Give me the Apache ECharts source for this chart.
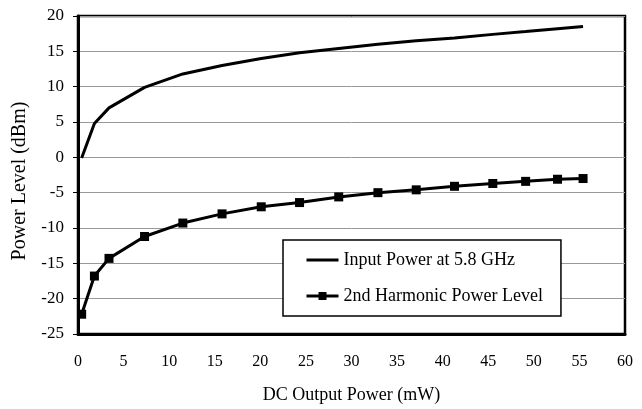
<!DOCTYPE html>
<html>
<head>
<meta charset="utf-8">
<script src="https://cdn.jsdelivr.net/npm/echarts@6/dist/echarts.min.js"></script>
<style>
  html, body { margin: 0; padding: 0; background: #fff; }
  #main { width: 642px; height: 409px; }
</style>
</head>
<body>
<div id="main"></div>
<script>
// DC output power (mW)
var dcPower = [0.4, 1.8, 3.4, 7.3, 11.5, 15.8, 20.1, 24.3, 28.6, 32.9, 37.1, 41.3, 45.5, 49.1, 52.6, 55.4];
// input power at 5.8 GHz (dBm)
var inputPower = [-0.1, 4.8, 7.0, 9.9, 11.8, 13.0, 14.0, 14.8, 15.4, 16.0, 16.5, 16.9, 17.4, 17.8, 18.2, 18.5];
// 2nd harmonic power level (dBm)
var harmonic = [-22.2, -16.8, -14.3, -11.2, -9.3, -8.0, -7.0, -6.4, -5.6, -5.0, -4.6, -4.1, -3.7, -3.4, -3.1, -3.0];

var seriesNames = ['Input Power at 5.8 GHz', '2nd Harmonic Power Level'];

function pairs(xs, ys) {
  return xs.map(function (x, i) { return [x, ys[i]]; });
}

var myChart = echarts.init(document.getElementById('main'));
var serif = 'Liberation Serif';

var option = {
  animation: false,
  textStyle: { fontFamily: serif, color: '#000' },
  grid: {
    left: 78, right: 17, top: 16, bottom: 74,
    show: true, borderColor: '#000', borderWidth: 2.5
  },
  legend: {
    left: 283, top: 240,
    orient: 'vertical',
    backgroundColor: '#fff',
    borderColor: '#000',
    borderWidth: 1.5,
    padding: [11, 18, 11, 22],
    itemGap: 18,
    itemWidth: 32,
    itemHeight: 10,
    lineStyle: { width: 3 },
    textStyle: { fontFamily: serif, fontSize: 18, color: '#000' },
    data: [
      // plain line in the legend for the first series, no marker
      { name: seriesNames[0], itemStyle: { opacity: 0 } },
      { name: seriesNames[1] }
    ]
  },
  xAxis: {
    type: 'value',
    min: 0, max: 60, interval: 5,
    name: 'DC Output Power (mW)',
    nameLocation: 'middle',
    nameGap: 52,
    nameTextStyle: { fontFamily: serif, fontSize: 18, color: '#000' },
    axisLine: { show: true, onZero: false, lineStyle: { color: '#000', width: 3 } },
    axisTick: { show: false },
    axisLabel: { fontFamily: serif, fontSize: 16, color: '#000', margin: 20 },
    splitLine: { show: false }
  },
  yAxis: {
    type: 'value',
    min: -25, max: 20, interval: 5,
    name: 'Power Level (dBm)',
    nameLocation: 'middle',
    nameGap: 48,
    nameTextStyle: { fontFamily: serif, fontSize: 20, color: '#000', padding: [0, 12, 0, 0] },
    axisLine: { show: true, lineStyle: { color: '#000', width: 3 } },
    axisTick: { show: true, length: 5, lineStyle: { color: '#000', width: 1 } },
    axisLabel: { fontFamily: serif, fontSize: 17, color: '#000', margin: 14 },
    splitLine: { show: true, lineStyle: { color: '#999', width: 1 } }
  },
  series: [
    {
      name: seriesNames[0],
      type: 'line',
      data: pairs(dcPower, inputPower),
      symbol: 'none',
      lineStyle: { color: '#000', width: 3 },
      itemStyle: { color: '#000' }
    },
    {
      name: seriesNames[1],
      type: 'line',
      data: pairs(dcPower, harmonic),
      symbol: 'rect',
      symbolSize: 9,
      lineStyle: { color: '#000', width: 3 },
      itemStyle: { color: '#000' }
    }
  ]
};

myChart.setOption(option);
</script>
</body>
</html>
